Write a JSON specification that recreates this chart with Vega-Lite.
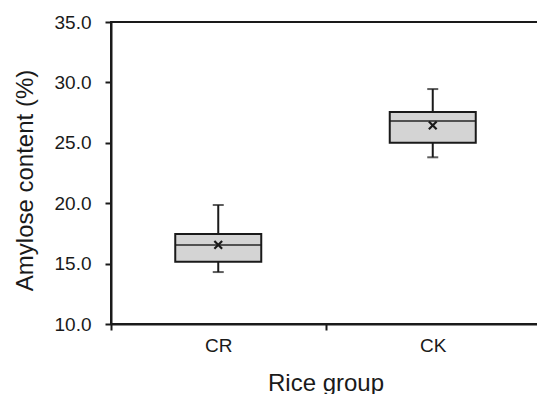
{
  "$schema": "https://vega.github.io/schema/vega-lite/v6.json",
  "autosize": {"type": "none"},
  "padding": {"left": 111, "top": 22, "right": 0, "bottom": 70},
  "width": 429,
  "height": 302,
  "background": "white",
  "config": {
    "font": "Liberation Sans",
    "view": {"stroke": "#1a1a1a", "strokeWidth": 2},
    "axis": {"grid": false, "domainColor": "#1a1a1a", "domainWidth": 2, "tickColor": "#1a1a1a", "tickWidth": 2, "tickSize": 6, "labelColor": "#1a1a1a", "titleColor": "#1a1a1a", "labelFont": "Liberation Sans", "titleFont": "Liberation Sans", "labelFontSize": 19, "titleFontSize": 24, "titleFontWeight": "normal"}
  },
  "data": {"values": [
    {"group": "CR", "min": 14.3, "q1": 15.15, "median": 16.55, "q3": 17.45, "max": 19.85, "mean": 16.55},
    {"group": "CK", "min": 23.8, "q1": 25.0, "median": 26.8, "q3": 27.55, "max": 29.45, "mean": 26.45}
  ]},
  "encoding": {
    "x": {"field": "group", "type": "nominal", "sort": ["CR", "CK"],
      "scale": {"paddingInner": 0, "paddingOuter": 0},
      "axis": {"title": "Rice group", "labelAngle": 0, "tickBand": "extent", "labelPadding": 6, "titlePadding": 16}}
  },
  "layer": [
    {"mark": {"type": "rule", "stroke": "#1a1a1a", "strokeWidth": 2},
     "encoding": {
       "y": {"field": "min", "type": "quantitative",
         "scale": {"domain": [10, 35], "nice": false, "zero": false},
         "axis": {"title": "Amylose content (%)", "values": [10, 15, 20, 25, 30, 35], "format": ".1f", "labelPadding": 14, "titlePadding": 17, "titleY": 158}},
       "y2": {"field": "max"}}},
    {"mark": {"type": "tick", "size": 11, "thickness": 2, "color": "#1a1a1a", "orient": "horizontal"},
     "encoding": {"y": {"field": "min", "type": "quantitative"}}},
    {"mark": {"type": "tick", "size": 11, "thickness": 2, "color": "#1a1a1a", "orient": "horizontal"},
     "encoding": {"y": {"field": "max", "type": "quantitative"}}},
    {"mark": {"type": "bar", "size": 86, "fill": "#d4d4d4", "stroke": "#1a1a1a", "strokeWidth": 2},
     "encoding": {"y": {"field": "q1", "type": "quantitative"}, "y2": {"field": "q3"}}},
    {"mark": {"type": "tick", "size": 86, "thickness": 2, "color": "#1a1a1a", "orient": "horizontal"},
     "encoding": {"y": {"field": "median", "type": "quantitative"}}},
    {"mark": {"type": "point", "shape": "M-1,-1L1,1M1,-1L-1,1", "size": 60, "filled": false, "stroke": "#1a1a1a", "strokeWidth": 2.2, "opacity": 1},
     "encoding": {"y": {"field": "mean", "type": "quantitative"}}}
  ]
}
